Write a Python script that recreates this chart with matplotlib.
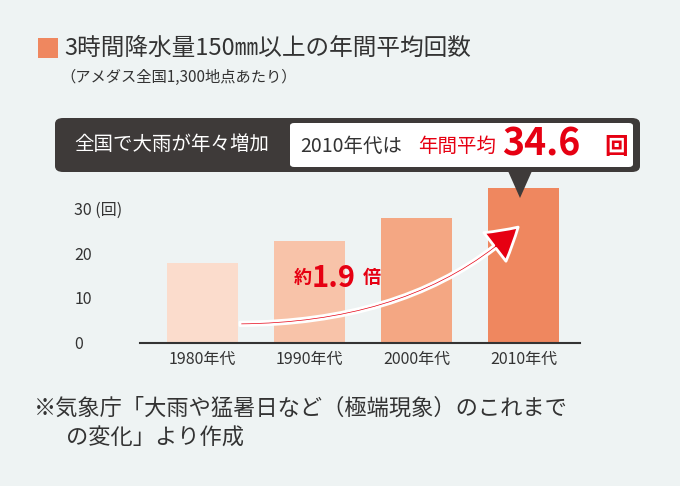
import matplotlib.pyplot as plt
from matplotlib.patches import FancyBboxPatch, Rectangle, Polygon, FancyArrowPatch
from matplotlib.path import Path

plt.rcParams['font.family'] = ['Noto Sans CJK JP', 'DejaVu Sans']

decades = ['1980年代', '1990年代', '2000年代', '2010年代']
counts = [17.7, 22.8, 27.8, 34.6]
bar_colors = ['#fbdccc', '#f8c3a9', '#f4a783', '#ef875f']
yticks = [0, 10, 20, 30]
ytick_labels = ['0', '10', '20', '30 (回)']

bg = '#eef3f3'
W, H = 680, 486
fig = plt.figure(figsize=(6.8, 4.86), dpi=100, facecolor=bg)

def fx(px):
    return px / W

def fy(py):
    return 1 - py / H

ax = fig.add_axes([fx(140), fy(342.7), fx(580) - fx(140), fy(163.5) - fy(342.7)])
ax.set_facecolor(bg)
x = list(range(len(decades)))
ax.bar(x, counts, width=0.66, color=bar_colors, zorder=2)
ax.set_xlim(-0.584, 3.528)
ax.set_ylim(0, 40)
ax.set_yticks(yticks)
ax.set_yticklabels(ytick_labels, fontsize=11.5, color='#333333')
ax.set_xticks(x)
ax.set_xticklabels(decades, fontsize=11.5, color='#333333')
ax.tick_params(length=0, pad=6)
for lab in ax.get_yticklabels():
    lab.set_horizontalalignment('left')
    lab.set_x(-0.13)
for s in ['top', 'right', 'left']:
    ax.spines[s].set_visible(False)
ax.spines['bottom'].set_color('#333333')
ax.spines['bottom'].set_linewidth(1.5)

# curved arrow
verts = [(0.35, 4.2), (2.0, 4.5), (2.95, 25.8)]
path = Path(verts, [Path.MOVETO, Path.CURVE3, Path.CURVE3])
arrow = FancyArrowPatch(path=path, arrowstyle='simple,head_width=2.6,head_length=2.2,tail_width=0.25',
                        mutation_scale=10, facecolor='#e60012', edgecolor='white', linewidth=2, zorder=4)
ax.add_patch(arrow)
ax.text(1.02, 14.5, '約', fontsize=13, fontweight='bold', color='#e60012', ha='right', va='center', zorder=5)
ax.text(1.02, 14.5, '1.9', fontsize=21, fontweight='bold', color='#e60012', ha='left', va='center', zorder=5)
ax.text(1.5, 14.5, '倍', fontsize=13, fontweight='bold', color='#e60012', ha='left', va='center', zorder=5)

# title
fig.patches.append(Rectangle((fx(38), fy(58)), fx(20), fy(38) - fy(58), transform=fig.transFigure,
                             facecolor='#ef875f', edgecolor='none'))
fig.text(fx(64), fy(48), '3時間降水量150㎜以上の年間平均回数', fontsize=17, color='#333333', va='center')
fig.text(fx(60), fy(77), '（アメダス全国1,300地点あたり）', fontsize=11, color='#333333', va='center')

# callout
fig.patches.append(FancyBboxPatch((fx(55), fy(172)), fx(640) - fx(55), fy(118) - fy(172),
                                  boxstyle='round,pad=0,rounding_size=0.012', transform=fig.transFigure,
                                  facecolor='#3e3a39', edgecolor='none'))
fig.patches.append(Polygon([(fx(508), fy(171)), (fx(532), fy(171)), (fx(520), fy(198))],
                           transform=fig.transFigure, facecolor='#3e3a39', edgecolor='none'))
fig.patches.append(FancyBboxPatch((fx(290), fy(167)), fx(633) - fx(290), fy(123) - fy(167),
                                  boxstyle='round,pad=0,rounding_size=0.006', transform=fig.transFigure,
                                  facecolor='white', edgecolor='none'))
fig.text(fx(172), fy(145), '全国で大雨が年々増加', fontsize=14, color='white', ha='center', va='center')
fig.text(fx(300), fy(146), '2010年代は', fontsize=14, color='#333333', va='center')
fig.text(fx(418), fy(146), '年間平均', fontsize=14, color='#e60012', va='center')
fig.text(fx(502), fy(144), '34.6', fontsize=27, fontweight='bold', color='#e60012', va='center')
fig.text(fx(604), fy(147), '回', fontsize=17, fontweight='bold', color='#e60012', va='center')

# source
fig.text(fx(34), fy(408), '※気象庁「大雨や猛暑日など（極端現象）のこれまで', fontsize=16, color='#333333', va='center')
fig.text(fx(66), fy(438), 'の変化」より作成', fontsize=16, color='#333333', va='center')

fig.savefig('out.png', dpi=100, facecolor=bg)
